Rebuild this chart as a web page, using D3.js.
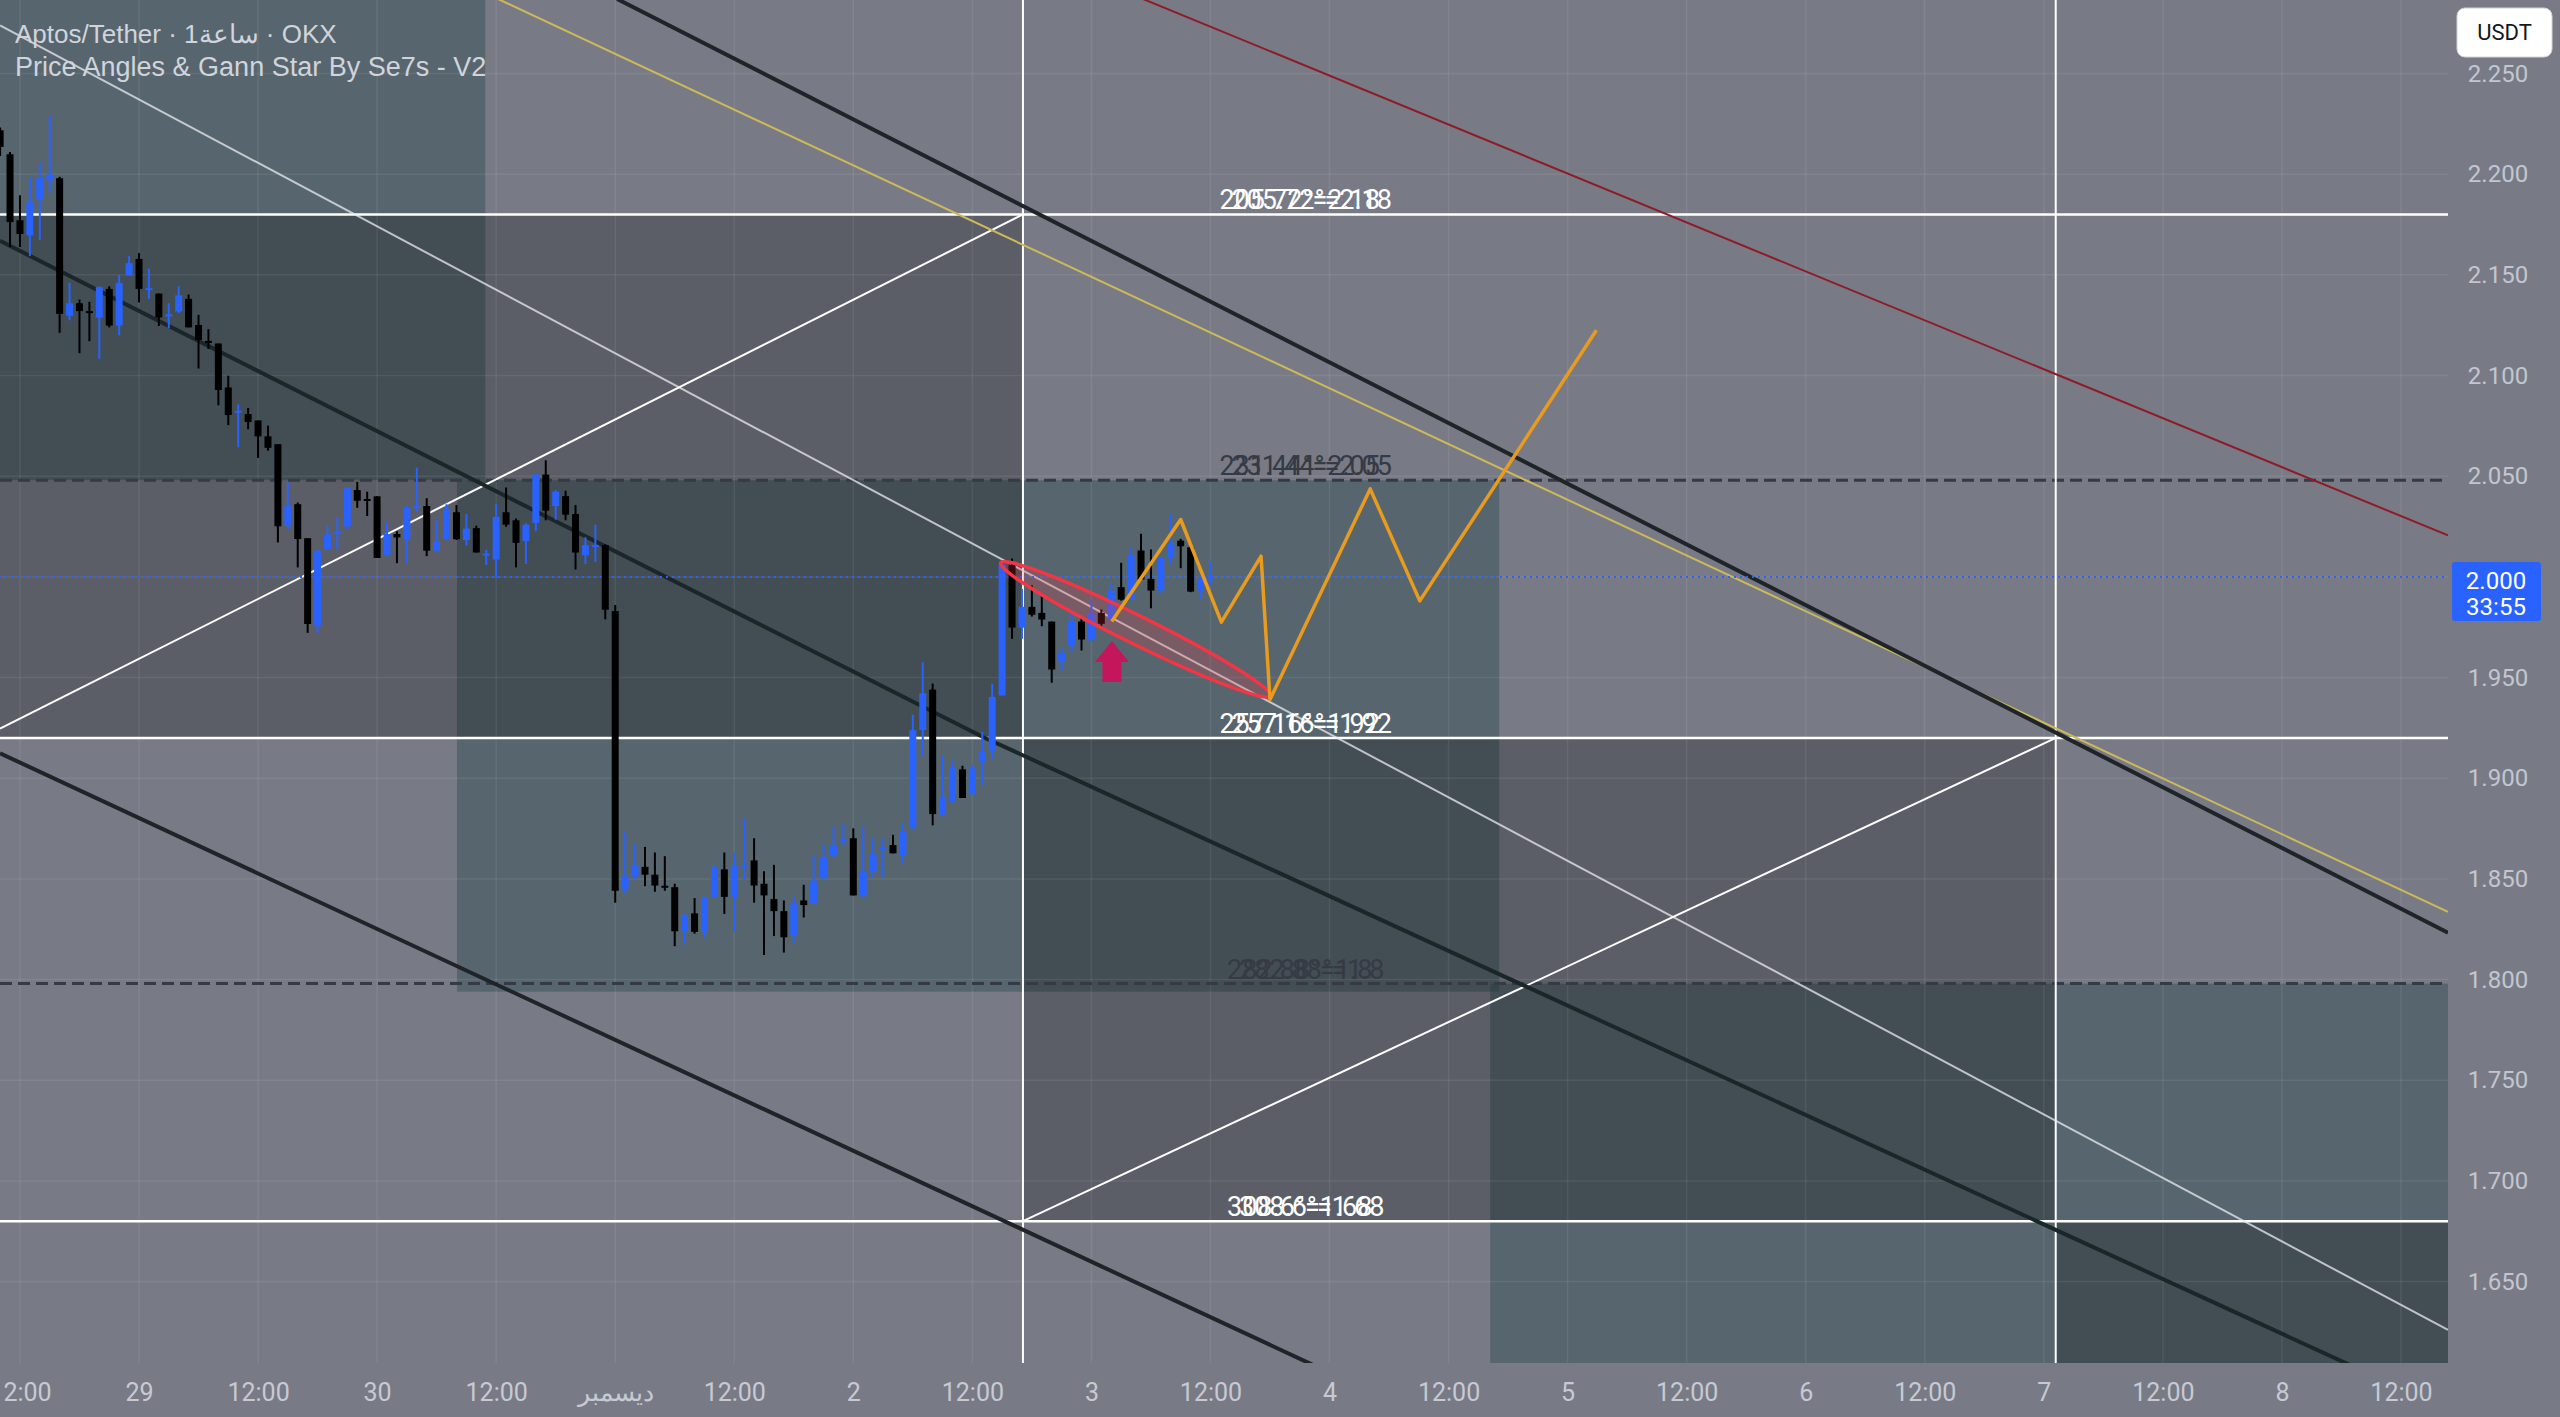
<!DOCTYPE html>
<html>
<head>
<meta charset="utf-8">
<script src="https://cdn.jsdelivr.net/npm/d3@7"></script>
<style>
  body { margin: 0; background: #787b86; overflow: hidden; }
  svg { display: block; }
</style>
</head>
<body>
<script>
const W = 2560, H = 1417;
const plotW = 2448, plotH = 1363;

// all times are hours from 2025-11-29 00:00 UTC
const day0 = Date.UTC(2025, 10, 29);
const at = h => new Date(day0 + h * 3600e3);

// hourly candles, first bar at hour -14 (28 Nov 10:00)
const firstHour = -14;
const open = [2.2218,2.2099,2.1771,2.1696,2.1877,2.1970,2.1980,2.1297,2.1359,2.1320,2.1288,2.1430,2.1248,2.1496,
  2.1579,2.1430,2.1407,2.1300,2.1318,2.1381,2.1251,2.1172,2.1159,2.0941,2.0822,2.0809,2.0777,2.0698,2.0659,2.0258,
  2.0361,2.0192,1.9757,2.0139,2.0220,2.0251,2.0431,2.0387,2.0400,2.0109,2.0213,2.0188,2.0349,2.0352,2.0130,2.0188,
  2.0321,2.0183,2.0242,2.0113,2.0086,2.0321,2.0281,2.0178,2.0268,2.0508,2.0352,2.0401,2.0312,2.0108,2.0155,2.0158,
  1.9830,1.8446,1.8512,1.8560,1.8521,1.8466,1.8459,1.8240,1.8329,1.8240,1.8411,1.8547,1.8411,1.8566,1.8592,1.8476,
  1.8400,1.8340,1.8219,1.8393,1.8379,1.8503,1.8618,1.8692,1.8702,1.8414,1.8538,1.8651,1.8668,1.8618,1.8751,1.9239,
  1.9440,1.8819,1.8884,1.9044,1.8920,1.9080,1.9138,1.9411,2.0061,1.9748,1.9851,1.9821,1.9778,1.9580,1.9659,1.9778,
  1.9692,1.9821,1.9788,1.9949,1.9887,2.0131,1.9990,1.9932,2.0098,2.0180,2.0147,1.9932,1.9995];
const high = [2.2232,2.2110,2.1895,2.1987,2.2058,2.2289,2.1987,2.1460,2.1377,2.1366,2.1443,2.1443,2.1499,2.1593,
  2.1608,2.1531,2.1407,2.1359,2.1443,2.1402,2.1301,2.1230,2.1159,2.0999,2.0857,2.0839,2.0777,2.0751,2.0659,2.0472,
  2.0369,2.0192,2.0135,2.0254,2.0298,2.0444,2.0472,2.0423,2.0400,2.0272,2.0227,2.0352,2.0543,2.0391,2.0281,2.0361,
  2.0357,2.0313,2.0254,2.0135,2.0361,2.0444,2.0290,2.0267,2.0511,2.0579,2.0431,2.0428,2.0357,2.0197,2.0259,2.0162,
  1.9860,1.8734,1.8672,1.8659,1.8631,1.8613,1.8476,1.8329,1.8405,1.8411,1.8569,1.8631,1.8631,1.8801,1.8702,1.8538,
  1.8570,1.8393,1.8411,1.8471,1.8613,1.8672,1.8760,1.8778,1.8751,1.8760,1.8702,1.8702,1.8719,1.8778,1.9315,1.9576,
  1.9470,1.9115,1.9088,1.9062,1.9067,1.9230,1.9470,2.0064,2.0091,1.9940,1.9958,1.9916,1.9778,1.9651,1.9833,1.9800,
  1.9887,1.9838,1.9970,2.0070,2.0142,2.0214,2.0136,2.0098,2.0313,2.0189,2.0152,2.0007,2.0076];
const low = [2.2090,2.1638,2.1638,2.1593,2.1673,2.1909,2.1212,2.1274,2.1111,2.1171,2.1083,2.1239,2.1200,2.1496,
  2.1363,2.1381,2.1246,2.1235,2.1310,2.1239,2.1035,2.1132,2.0852,2.0754,2.0644,2.0733,2.0591,2.0627,2.0171,2.0236,
  2.0047,1.9722,1.9722,2.0135,2.0135,2.0236,2.0343,2.0302,2.0094,2.0103,2.0068,2.0064,2.0325,2.0103,2.0124,2.0183,
  2.0183,2.0156,2.0121,2.0059,1.9993,2.0249,2.0047,2.0064,2.0227,2.0281,2.0284,2.0281,2.0037,2.0064,2.0073,1.9789,
  1.8382,1.8423,1.8499,1.8464,1.8436,1.8441,1.8166,1.8175,1.8228,1.8205,1.8411,1.8326,1.8237,1.8494,1.8382,1.8122,
  1.8216,1.8134,1.8180,1.8308,1.8379,1.8499,1.8609,1.8663,1.8418,1.8405,1.8507,1.8507,1.8627,1.8574,1.8751,1.9110,
  1.8766,1.8819,1.8872,1.8902,1.8920,1.8964,1.9092,1.9411,1.9692,1.9692,1.9803,1.9755,1.9474,1.9535,1.9626,1.9634,
  1.9679,1.9755,1.9783,1.9882,1.9887,1.9987,1.9844,1.9916,2.0060,2.0043,1.9924,1.9891,1.9954];
const close = [2.2135,2.1762,2.1703,2.1860,2.1980,2.1998,2.1306,2.1359,2.1320,2.1310,2.1439,2.1248,2.1460,2.1558,
  2.1430,2.1434,2.1288,2.1304,2.1398,2.1239,2.1177,2.1168,2.0928,2.0804,2.0825,2.0769,2.0698,2.0641,2.0251,2.0352,
  2.0188,1.9766,2.0130,2.0210,2.0224,2.0440,2.0378,2.0384,2.0094,2.0213,2.0196,2.0343,2.0352,2.0130,2.0178,2.0339,
  2.0187,2.0240,2.0121,2.0116,2.0298,2.0259,2.0169,2.0259,2.0508,2.0329,2.0423,2.0309,2.0121,2.0158,2.0158,1.9837,
  1.8441,1.8512,1.8569,1.8521,1.8467,1.8462,1.8240,1.8320,1.8237,1.8411,1.8560,1.8411,1.8565,1.8570,1.8467,1.8418,
  1.8340,1.8210,1.8375,1.8370,1.8491,1.8609,1.8668,1.8695,1.8418,1.8538,1.8622,1.8654,1.8627,1.8737,1.9239,1.9422,
  1.8822,1.8902,1.9053,1.8902,1.9049,1.9133,1.9404,2.0061,1.9748,1.9851,1.9812,1.9788,1.9540,1.9623,1.9778,1.9689,
  1.9821,1.9767,1.9932,1.9887,2.0109,1.9987,1.9932,2.0098,2.0169,2.0152,1.9927,1.9990,2.0000];
const lastPrice = 2.000;
const countdown = '33:55';

// price axis ticks and time axis ticks (every 12 h)
const priceTicks = [1.65, 1.70, 1.75, 1.80, 1.85, 1.90, 1.95, 2.00, 2.05, 2.10, 2.15, 2.20, 2.25];
const timeTicks = d3.range(-12, 229, 12);

// Gann levels: price, angle text, price text
const levelPrices = [2.18, 2.048, 1.92, 1.798, 1.68];
const levelAngles = ['205.72', '231.44', '257.16', '282.88', '308.6'];
const levelValues = ['2.18', '2.05', '1.92', '1.8', '1.68'];
const levelLabelHour = 117.6;
const verticalHours = [89.1, 193.2];

// shaded boxes [hourFrom, hourTo, priceTop, priceBottom]
const tealZones = [[-20, 34.9, 2.40, 2.048], [32.05, 137.1, 2.048, 1.794], [136.2, 240, 1.798, 1.50]];
const darkZones = [[-20, 89.1, 2.18, 1.92], [89.1, 193.2, 1.92, 1.68], [193.2, 240, 1.68, 1.50]];

// angle lines [hour, price]
const fanLight = [[-14.011, 2.2739], [232.74, 1.6260]];
const riseA = [[-14.011, 1.9246], [89.1, 2.18]];
const riseB = [[89.1, 1.68], [193.2, 1.92]];
const blackA = [[48.2, 2.287], [232.74, 1.8233]];
const blackB = [[-14.011, 2.1669], [85.07, 1.9205], [232.74, 1.5862]];
const blackC = [[-14.011, 1.9124], [127.1, 1.5885]];
const yellowLine = [[36.18, 2.287], [232.74, 1.8336]];
const redLine = [[101.2, 2.287], [232.74, 2.0206]];

// pattern and projection
const wedge = [[86.86, 2.0070], [114.07, 1.9408]];
const arrowAt = [98.07, 1.9682];
const projection = [[98.05, 1.9778], [105.0, 2.0285], [109.1, 1.9775], [113.1, 2.0103], [114.0, 1.9391],
  [124.1, 2.0437], [129.1, 1.9881], [146.9, 2.1225]];

const x = d3.scaleUtc().domain([at(-14.011), at(232.74)]).range([0, plotW]);
const y = d3.scaleLinear().domain([1.65, 2.25]).range([1281.6, 73.5]);
const px = h => x(at(h));

const svg = d3.select('body').append('svg').attr('width', W).attr('height', H);
svg.append('rect').attr('width', W).attr('height', H).attr('fill', '#787b86');
svg.append('defs').append('clipPath').attr('id', 'plot')
  .append('rect').attr('width', plotW).attr('height', plotH);

const plot = svg.append('g').attr('clip-path', 'url(#plot)');

plot.selectAll('rect.teal').data(tealZones).enter().append('rect')
  .attr('class', 'teal')
  .attr('x', d => px(d[0])).attr('width', d => px(d[1]) - px(d[0]))
  .attr('y', d => y(d[2])).attr('height', d => y(d[3]) - y(d[2]))
  .attr('fill', 'rgba(54,81,86,0.5)');

plot.selectAll('rect.dark').data(darkZones).enter().append('rect')
  .attr('class', 'dark')
  .attr('x', d => px(d[0])).attr('width', d => px(d[1]) - px(d[0]))
  .attr('y', d => y(d[2])).attr('height', d => y(d[3]) - y(d[2]))
  .attr('fill', 'rgba(0,0,0,0.23)');

// grid
plot.selectAll('line.vgrid').data(timeTicks).enter().append('line')
  .attr('x1', d => px(d)).attr('x2', d => px(d)).attr('y1', 0).attr('y2', plotH)
  .attr('stroke', 'rgba(255,255,255,0.07)').attr('stroke-width', 1.5);
plot.selectAll('line.hgrid').data(priceTicks).enter().append('line')
  .attr('x1', 0).attr('x2', plotW).attr('y1', d => y(d)).attr('y2', d => y(d))
  .attr('stroke', 'rgba(255,255,255,0.07)').attr('stroke-width', 1.5);

const path = d3.line().x(d => px(d[0])).y(d => y(d[1]));
function drawLine(pts, stroke, width) {
  plot.append('path').attr('d', path(pts)).attr('fill', 'none')
    .attr('stroke', stroke).attr('stroke-width', width);
}

// levels
plot.selectAll('line.level').data(levelPrices).enter().append('line')
  .attr('x1', 0).attr('x2', plotW).attr('y1', d => y(d)).attr('y2', d => y(d))
  .attr('stroke', (d, i) => i % 2 ? '#363a45' : '#ffffff')
  .attr('stroke-width', (d, i) => i % 2 ? 3 : 2.5)
  .attr('stroke-dasharray', (d, i) => i % 2 ? '12 6' : null);

plot.selectAll('line.vert').data(verticalHours).enter().append('line')
  .attr('x1', d => px(d)).attr('x2', d => px(d)).attr('y1', 0).attr('y2', plotH)
  .attr('stroke', '#ffffff').attr('stroke-width', 2);

drawLine(fanLight, 'rgba(235,235,240,0.75)', 2);
drawLine(riseA, '#ffffff', 2);
drawLine(riseB, '#ffffff', 2);
drawLine(redLine, '#8e1c27', 2);
drawLine(yellowLine, '#cdb95a', 2);
drawLine(blackA, '#1e2427', 4);
drawLine(blackB, '#1b2628', 4);
drawLine(blackC, '#1e2427', 4);

// current price line
plot.append('line').attr('x1', 0).attr('x2', plotW)
  .attr('y1', y(lastPrice)).attr('y2', y(lastPrice))
  .attr('stroke', '#2962ff').attr('stroke-width', 2).attr('stroke-dasharray', '2 4');

// candles
const bars = open.map((o, i) => ({ t: at(firstHour + i), o, h: high[i], l: low[i], c: close[i] }));
const cg = plot.append('g');
cg.selectAll('line.wick').data(bars).enter().append('line')
  .attr('x1', d => x(d.t)).attr('x2', d => x(d.t))
  .attr('y1', d => y(d.h)).attr('y2', d => y(d.l))
  .attr('stroke', d => d.c >= d.o ? '#2962ff' : '#000000').attr('stroke-width', 2);
cg.selectAll('rect.body').data(bars).enter().append('rect')
  .attr('x', d => x(d.t) - 3.5).attr('width', 7)
  .attr('y', d => y(Math.max(d.o, d.c)))
  .attr('height', d => Math.max(2, Math.abs(y(d.o) - y(d.c))))
  .attr('fill', d => d.c >= d.o ? '#2962ff' : '#000000');

// wedge ellipse
const e0 = [px(wedge[0][0]), y(wedge[0][1])], e1 = [px(wedge[1][0]), y(wedge[1][1])];
const ecx = (e0[0] + e1[0]) / 2, ecy = (e0[1] + e1[1]) / 2;
const erx = Math.hypot(e1[0] - e0[0], e1[1] - e0[1]) / 2;
const eang = Math.atan2(e1[1] - e0[1], e1[0] - e0[0]) * 180 / Math.PI;
plot.append('ellipse').attr('cx', ecx).attr('cy', ecy).attr('rx', erx).attr('ry', 14)
  .attr('transform', `rotate(${eang},${ecx},${ecy})`)
  .attr('fill', 'rgba(242,54,69,0.22)').attr('stroke', '#f23645').attr('stroke-width', 3.5);

// arrow
plot.append('path')
  .attr('transform', `translate(${px(arrowAt[0])},${y(arrowAt[1])})`)
  .attr('d', 'M0,0 L17,21 L9.5,21 L9.5,41 L-9.5,41 L-9.5,21 L-17,21 Z')
  .attr('fill', '#c4165a');

// projection
plot.append('path').attr('d', path(projection)).attr('fill', 'none')
  .attr('stroke', '#e89b1f').attr('stroke-width', 3.5).attr('stroke-linejoin', 'round');

// level labels (the reference shows each one printed twice, overlapping)
const lg = plot.append('g').style('font-family', 'Roboto, sans-serif').style('font-size', '27px');
levelPrices.forEach((p, i) => {
  const txt = `${levelAngles[i]}°=${levelValues[i]}`;
  [-6, 6].forEach(dx => {
    lg.append('text').attr('x', px(levelLabelHour) + dx).attr('y', y(p) - 5)
      .attr('text-anchor', 'middle')
      .attr('fill', i % 2 ? '#363a45' : '#ffffff')
      .text(txt);
  });
});

// time axis
const xAxis = d3.axisBottom(x)
  .tickValues(timeTicks.map(at))
  .tickSize(0).tickPadding(20)
  .tickFormat(d => {
    if (d.getUTCHours() === 12) return '12:00';
    if (d.getUTCDate() === 1) return 'ديسمبر';
    return String(d.getUTCDate());
  });
const xg = svg.append('g').attr('transform', `translate(0,${plotH})`).call(xAxis);
xg.select('.domain').remove();
xg.selectAll('text').attr('fill', '#c7cad2').style('font-family', 'Roboto, sans-serif').style('font-size', '25px');

// price axis
const yAxis = d3.axisRight(y).tickValues(priceTicks).tickFormat(d3.format('.3f')).tickSize(0).tickPadding(0);
const yg = svg.append('g').attr('transform', 'translate(2498,0)').call(yAxis);
yg.select('.domain').remove();
yg.selectAll('text').attr('text-anchor', 'middle').attr('fill', '#c3c6cf')
  .style('font-family', 'Roboto, sans-serif').style('font-size', '24px');

// last price tag
const ty = y(lastPrice);
svg.append('rect').attr('x', 2452).attr('y', ty - 15).attr('width', 89).attr('height', 59)
  .attr('rx', 3).attr('fill', '#2962ff');
svg.append('text').attr('x', 2496).attr('y', ty + 12).attr('text-anchor', 'middle')
  .attr('fill', '#ffffff').style('font-family', 'Roboto, sans-serif').style('font-size', '24px')
  .text(d3.format('.3f')(lastPrice));
svg.append('text').attr('x', 2496).attr('y', ty + 38).attr('text-anchor', 'middle')
  .attr('fill', '#ffffff').style('font-family', 'Roboto, sans-serif').style('font-size', '24px')
  .text(countdown);

// currency button
svg.append('rect').attr('x', 2457).attr('y', 8).attr('width', 95).attr('height', 49)
  .attr('rx', 8).attr('fill', '#ffffff').attr('stroke', '#d1d4dc');
svg.append('text').attr('x', 2504.5).attr('y', 40).attr('text-anchor', 'middle')
  .attr('fill', '#131722').style('font-family', 'Roboto, sans-serif').style('font-size', '22px')
  .text('USDT');

// legend
svg.append('text').attr('x', 15).attr('y', 43).attr('fill', '#d1d4dc')
  .style('font-family', '"Liberation Sans", Arial, sans-serif').style('font-size', '26px')
  .text('Aptos/Tether · 1ساعة · OKX');
svg.append('text').attr('x', 15).attr('y', 76).attr('fill', '#d1d4dc')
  .style('font-family', '"Liberation Sans", Arial, sans-serif').style('font-size', '27px')
  .text('Price Angles & Gann Star By Se7s - V2');
</script>
</body>
</html>
